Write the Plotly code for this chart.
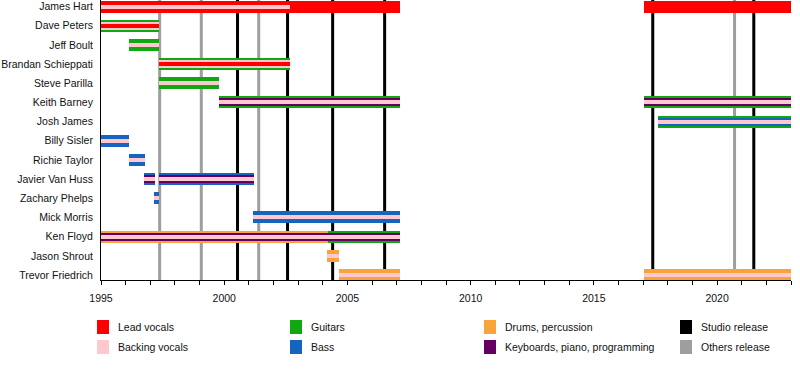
import plotly.graph_objects as go

# ---------------- data ----------------
members = ["James Hart", "Dave Peters", "Jeff Boult", "Brandan Schieppati", "Steve Parilla",
           "Keith Barney", "Josh James", "Billy Sisler", "Richie Taylor", "Javier Van Huss",
           "Zachary Phelps", "Mick Morris", "Ken Floyd", "Jason Shrout", "Trevor Friedrich"]

roles = ["Lead vocals", "Backing vocals", "Guitars", "Bass",
         "Drums, percussion", "Keyboards, piano, programming"]
role_colors = ["#FF0000", "#FFC8CF", "#10A810", "#1565C0", "#F9A43A", "#640064"]

release_kinds = ["Studio release", "Others release"]
release_colors = ["#000000", "#9E9E9E"]
studio_releases = [2000.54, 2002.57, 2004.40, 2006.51, 2017.39, 2021.49]
other_releases = [1997.38, 1999.07, 2001.40, 2020.71]

# primary role (full-width bar)
primary_member = ["James Hart", "James Hart", "Dave Peters", "Jeff Boult", "Brandan Schieppati",
                  "Steve Parilla", "Keith Barney", "Keith Barney", "Josh James", "Billy Sisler",
                  "Richie Taylor", "Javier Van Huss", "Javier Van Huss", "Zachary Phelps",
                  "Mick Morris", "Ken Floyd", "Ken Floyd", "Jason Shrout", "Trevor Friedrich",
                  "Trevor Friedrich"]
primary_start = [1995, 2017.05, 1995, 1996.12, 1997.34, 1997.34, 1999.77, 2017.05, 2017.62, 1995,
                 1996.12, 1996.76, 1997.34, 1997.16, 2001.18, 1995, 2004.23, 2004.17, 2004.64, 2017.05]
primary_end = [2007.15, 2023, 1997.34, 1997.34, 2002.68, 1999.80, 2007.15, 2023, 2023, 1996.15,
               1996.80, 1997.20, 2001.22, 1997.37, 2007.15, 2004.23, 2007.15, 2004.67, 2007.15, 2023]
primary_role = ["Lead vocals", "Lead vocals", "Guitars", "Guitars", "Guitars", "Guitars", "Guitars",
                "Guitars", "Guitars", "Bass", "Bass", "Bass", "Bass", "Bass", "Bass",
                "Drums, percussion", "Guitars", "Drums, percussion", "Drums, percussion",
                "Drums, percussion"]

# secondary role (medium bar)
secondary_member = ["Dave Peters", "Brandan Schieppati", "Keith Barney", "Keith Barney", "Josh James",
                    "Javier Van Huss", "Javier Van Huss", "Ken Floyd"]
secondary_start = [1995, 1997.34, 1999.77, 2017.05, 2017.62, 1996.76, 1997.34, 1995]
secondary_end = [1997.34, 2002.68, 2007.15, 2023, 2023, 1997.20, 2001.22, 2007.15]
secondary_role = ["Backing vocals", "Backing vocals", "Keyboards, piano, programming",
                  "Keyboards, piano, programming", "Bass", "Keyboards, piano, programming",
                  "Keyboards, piano, programming", "Keyboards, piano, programming"]

# tertiary role (thin bar)
tertiary_member = ["James Hart", "Dave Peters", "Jeff Boult", "Brandan Schieppati", "Steve Parilla",
                   "Keith Barney", "Keith Barney", "Josh James", "Billy Sisler", "Richie Taylor",
                   "Javier Van Huss", "Javier Van Huss", "Zachary Phelps", "Mick Morris", "Ken Floyd",
                   "Jason Shrout", "Trevor Friedrich", "Trevor Friedrich"]
tertiary_start = [1995, 1995, 1996.12, 1997.34, 1997.34, 1999.77, 2017.05, 2017.62, 1995, 1996.12,
                  1996.76, 1997.34, 1997.16, 2001.18, 1995, 2004.17, 2004.64, 2017.05]
tertiary_end = [2002.68, 1997.34, 1997.34, 2002.68, 1999.80, 2007.15, 2023, 2023, 1996.15, 1996.80,
                1997.20, 2001.22, 1997.37, 2007.15, 2007.15, 2004.67, 2007.15, 2023]
tertiary_role = ["Backing vocals", "Lead vocals", "Backing vocals", "Lead vocals", "Backing vocals",
                 "Backing vocals", "Backing vocals", "Backing vocals", "Backing vocals",
                 "Backing vocals", "Backing vocals", "Backing vocals", "Backing vocals",
                 "Backing vocals", "Backing vocals", "Backing vocals", "Backing vocals",
                 "Backing vocals"]

year_ticks = [1995, 2000, 2005, 2010, 2015, 2020]

# ---------------- figure ----------------
W, H = 800, 370
ML, MR, MT, MB = 101, 9, 0, 90
PW, PH = W - ML - MR, H - MT - MB
FONT = "Liberation Sans, Arial, sans-serif"

color_of = dict(zip(roles, role_colors))
row_of = {m: i for i, m in enumerate(members)}

fig = go.Figure()

for v in studio_releases:
    fig.add_vline(x=v, line=dict(color=release_colors[0], width=3), layer="below")
for v in other_releases:
    fig.add_vline(x=v, line=dict(color=release_colors[1], width=3), layer="below")


def add_layer(mem, st, en, rl, thick):
    fig.add_trace(go.Bar(
        orientation="h",
        y=[row_of[m] for m in mem],
        base=st,
        x=[e - s for s, e in zip(st, en)],
        width=thick,
        marker=dict(color=[color_of[r] for r in rl], line=dict(width=0)),
        showlegend=False,
        hoverinfo="skip",
    ))


row_px = 19.17
add_layer(primary_member, primary_start, primary_end, primary_role, 12 / row_px)
add_layer(secondary_member, secondary_start, secondary_end, secondary_role, 8 / row_px)
add_layer(tertiary_member, tertiary_start, tertiary_end, tertiary_role, 4 / row_px)

# legend (drawn manually)
legend_cols = [[roles[0], roles[1]], [roles[2], roles[3]], [roles[4], roles[5]],
               [release_kinds[0], release_kinds[1]]]
legend_col_px = [97, 290, 484, 680]
legend_row_px = [327, 347]
all_colors = dict(color_of)
all_colors.update(dict(zip(release_kinds, release_colors)))


def px_x(p):
    return (p - ML) / PW


def px_y(p):
    return (H - MB - p) / PH


for cx, items in zip(legend_col_px, legend_cols):
    for cy, name in zip(legend_row_px, items):
        fig.add_shape(type="rect", xref="paper", yref="paper",
                      x0=px_x(cx), x1=px_x(cx + 12), y0=px_y(cy - 7), y1=px_y(cy + 7),
                      fillcolor=all_colors[name], line=dict(width=0))
        fig.add_annotation(xref="paper", yref="paper", x=px_x(cx + 19), y=px_y(cy),
                           text=name, showarrow=False, xanchor="left", yanchor="middle",
                           font=dict(family=FONT, size=10.5, color="#111111"))

fig.update_layout(
    width=W, height=H,
    margin=dict(l=ML, r=MR, t=MT, b=MB, autoexpand=False),
    paper_bgcolor="white", plot_bgcolor="white",
    barmode="overlay",
    bargap=0,
    showlegend=False,
    font=dict(family=FONT, size=10.5, color="#111111"),
)
fig.update_xaxes(
    range=[1995, 2023], tickvals=year_ticks, ticktext=[str(t) for t in year_ticks],
    showline=True, linecolor="black", linewidth=1,
    ticks="outside", ticklen=4, tickcolor="black", tickwidth=1,
    minor=dict(dtick=1, tick0=1995, ticks="outside", ticklen=4, tickcolor="black"),
    showgrid=False, zeroline=False, ticklabelstandoff=4, automargin=False,
    tickfont=dict(family=FONT, size=10.5, color="#111111"),
)
fig.update_yaxes(
    range=[14.26, -0.34], tickvals=list(range(len(members))), ticktext=members,
    showline=True, linecolor="black", linewidth=1, ticks="", showgrid=False, zeroline=False,
    ticklabelstandoff=5, automargin=False,
    tickfont=dict(family=FONT, size=10.5, color="#111111"),
)

fig.write_html(
    "out.html",
    config={"displayModeBar": False},
    post_script="document.body.style.margin='0';document.body.style.overflow='hidden';",
)
